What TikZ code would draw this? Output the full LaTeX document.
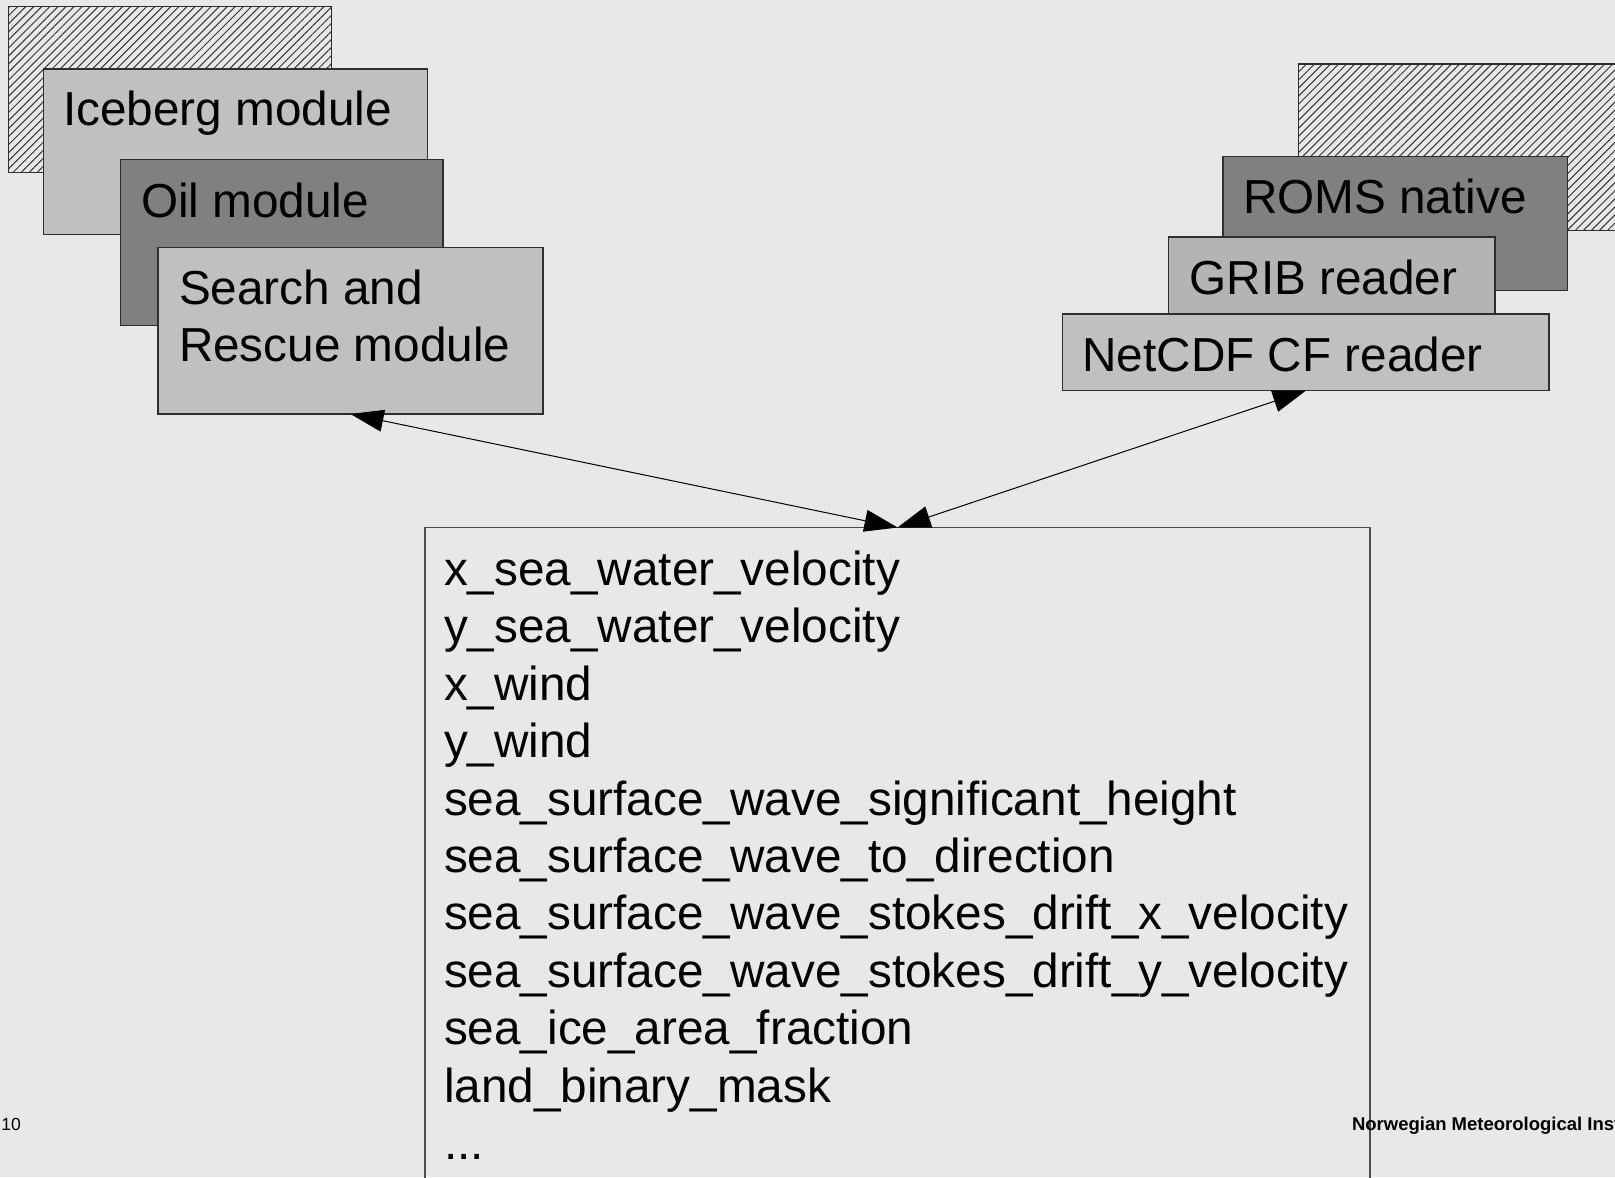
\documentclass[tikz,border=0pt]{standalone}
\usepackage{fontspec}
\setmainfont{Liberation Sans}
\usetikzlibrary{arrows.meta,patterns.meta}
\definecolor{slidebg}{HTML}{E8E8E8}
\definecolor{lightbox}{HTML}{C0C0C0}
\definecolor{midbox}{HTML}{B4B4B4}
\definecolor{darkbox}{HTML}{808080}
\definecolor{edge}{HTML}{2E2E2E}

\begin{document}
\begin{tikzpicture}[x=0.5pt,y=-0.5pt,
  panel/.style={draw=edge, line width=0.6pt, inner sep=0pt, outer sep=0pt,
                anchor=north west, rectangle},
  hatchbox/.style={panel, pattern={Lines[angle=45,distance=2.85pt,line width=0.5pt]},
                   pattern color=black!80},
  lbl/.style={anchor=base west, inner sep=0pt, outer sep=0pt, align=left,
              font=\fontsize{23.85}{28.7}\selectfont},
  link/.style={{Triangle[length=16.5pt,width=11pt]}-{Triangle[length=16.5pt,width=11pt]},
               line width=0.5pt, draw=black},
  foot/.style={anchor=base west, inner sep=0pt, outer sep=0pt}]

% slide background
\fill[slidebg] (0,0) rectangle (1615,1177);
\useasboundingbox (0,0) rectangle (1615,1177);

% model modules, stacked
\node[hatchbox, minimum width=161.5pt, minimum height=83pt] (modback) at (8.5,6.5) {};
\node[panel, fill=lightbox, minimum width=192.1pt, minimum height=82.75pt] (iceberg) at (43.3,69) {};
\node[panel, fill=darkbox, minimum width=161.25pt, minimum height=83pt] (oil) at (120.5,159.5) {};
\node[panel, fill=lightbox, minimum width=192.5pt, minimum height=83.35pt] (sar) at (158,247.3) {};

% (multi-line labels are anchored on the baseline of their last line)
\node[lbl] (icebergtext) at (63,126) {Iceberg module};
\node[lbl] (oiltext) at (141,217.3) {Oil module};
\node[lbl] (sartext) at (179,361.7) {Search and\\Rescue module};

% readers, stacked
\node[hatchbox, minimum width=200.75pt, minimum height=83.25pt] (readback) at (1298.5,64) {};
\node[panel, fill=darkbox, minimum width=172.4pt, minimum height=66.8pt] (roms) at (1223,156.7) {};
\node[panel, fill=midbox, minimum width=163.15pt, minimum height=38.25pt] (grib) at (1168.7,237) {};
\node[panel, fill=lightbox, minimum width=243.15pt, minimum height=38.35pt] (netcdf) at (1062.7,314) {};

\node[lbl] (romstext) at (1243,213.3) {ROMS native};
\node[lbl] (gribtext) at (1189.5,294) {GRIB reader};
\node[lbl] (netcdftext) at (1082.5,371.7) {NetCDF CF reader};

% variable list
\node[panel, draw=black!70, minimum width=472.5pt, minimum height=361.25pt] (vars) at (425,527.5) {};
\node[lbl] (varlist) at (444,1159.5) {x\_sea\_water\_velocity\\
y\_sea\_water\_velocity\\
x\_wind\\
y\_wind\\
sea\_surface\_wave\_significant\_height\\
sea\_surface\_wave\_to\_direction\\
sea\_surface\_wave\_stokes\_drift\_x\_velocity\\
sea\_surface\_wave\_stokes\_drift\_y\_velocity\\
sea\_ice\_area\_fraction\\
land\_binary\_mask\\
...};

% connectors
\draw[link] (sar.south) -- (vars.north);
\draw[link] (netcdf.south) -- (vars.north);

% footer
\node[foot, font=\fontsize{8.75}{10}\selectfont] (pageno) at (1.5,1130) {10};
\node[foot, font=\fontsize{9.25}{11}\selectfont\bfseries] (institute) at (1352,1130) {Norwegian Meteorological Inst};
\end{tikzpicture}
\end{document}
